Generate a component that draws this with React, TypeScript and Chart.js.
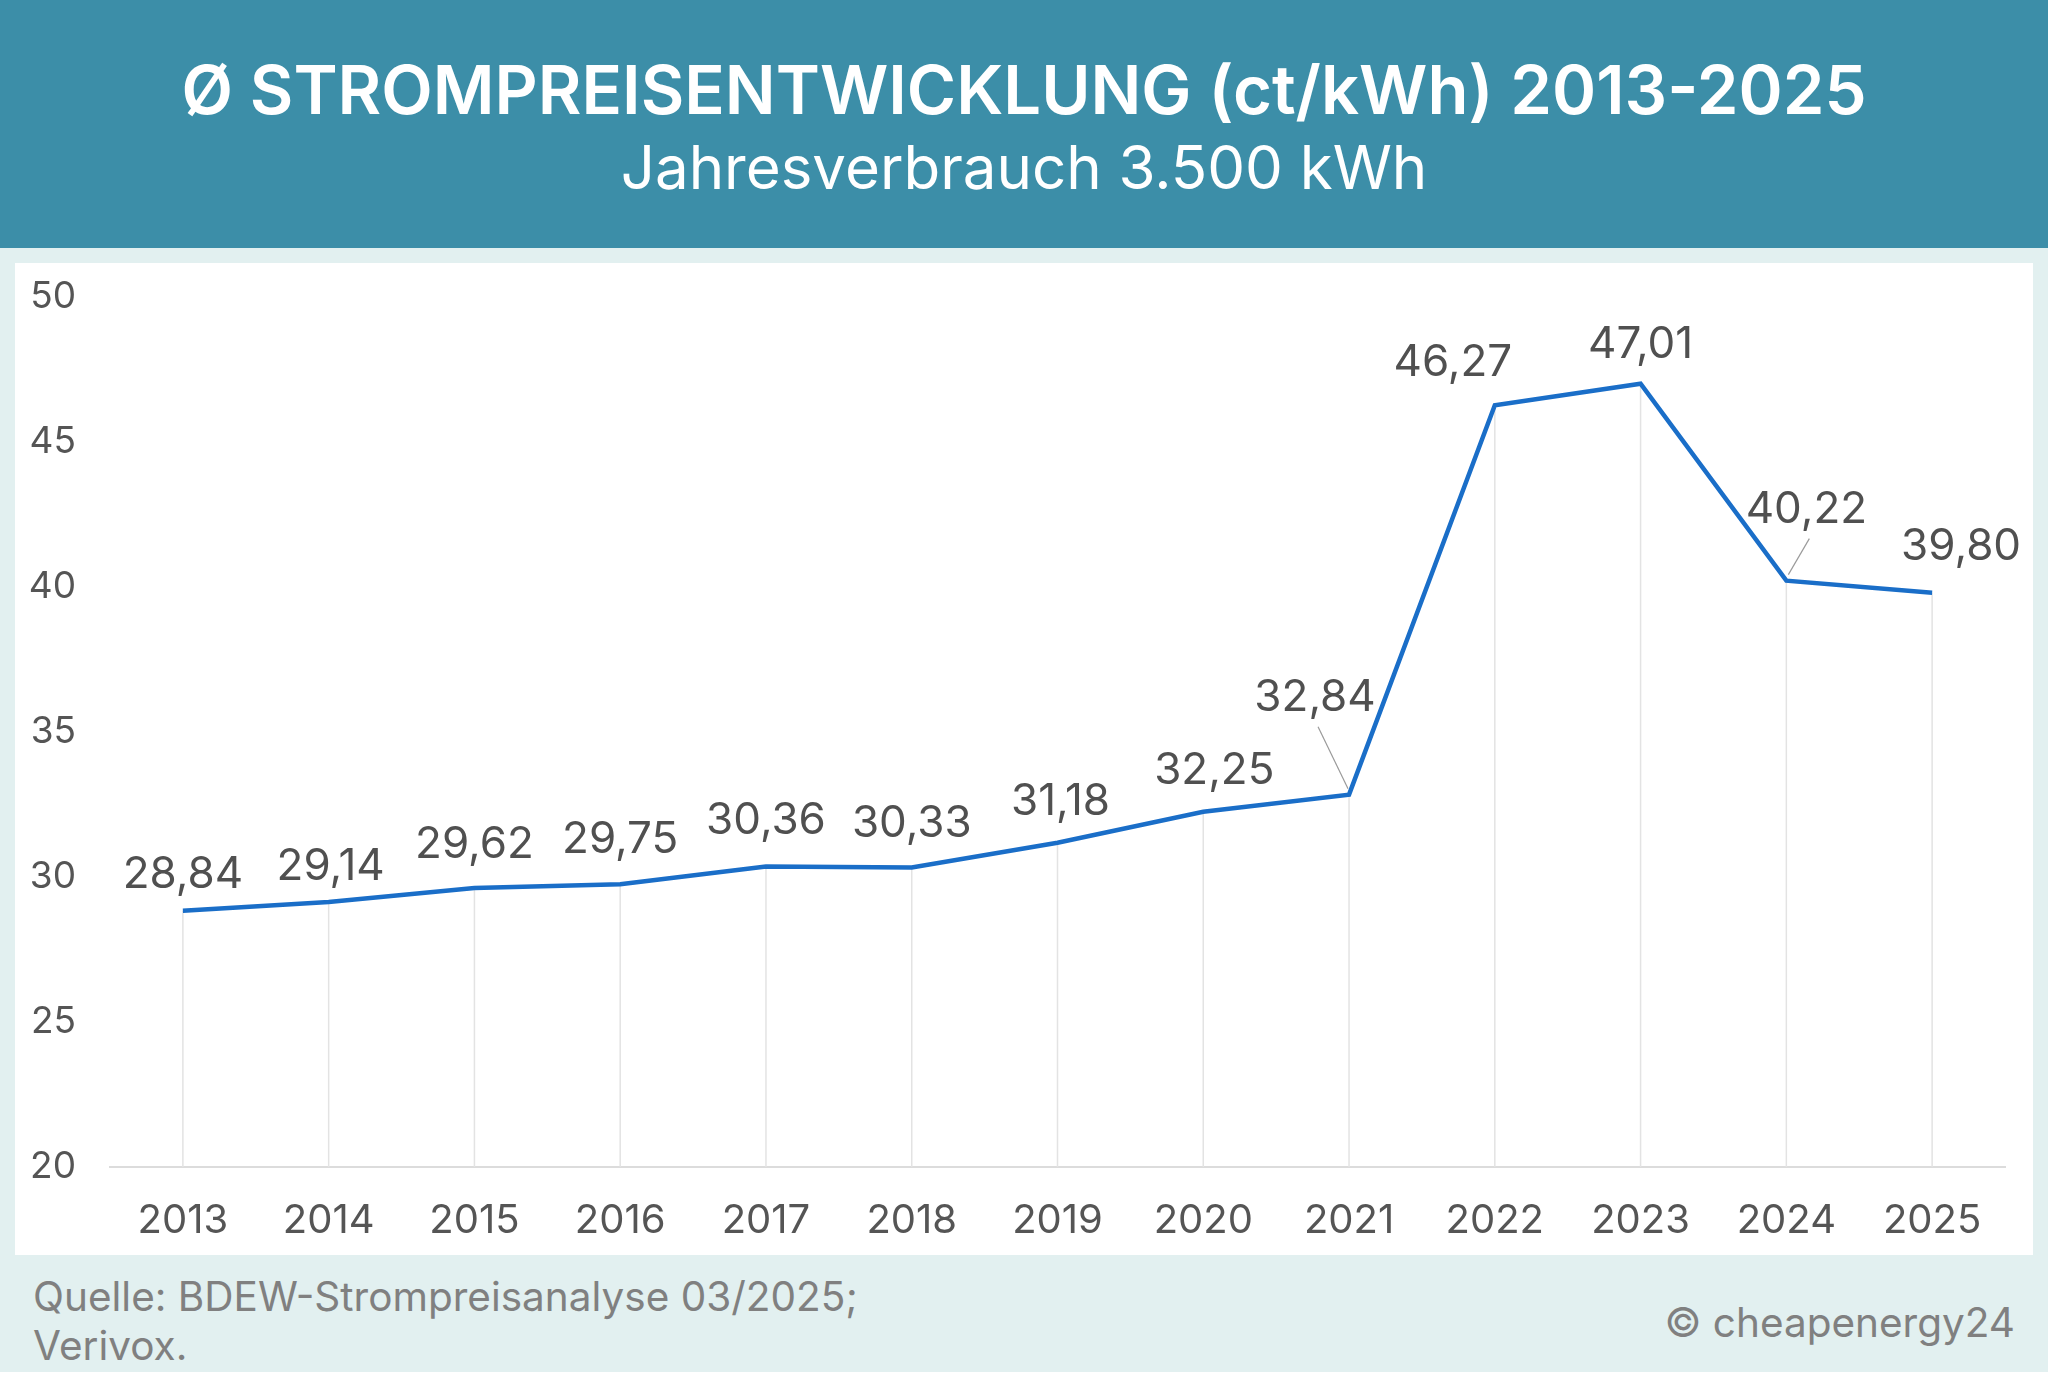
import React, { useEffect, useRef } from "react";
import { Chart, registerables } from "chart.js";

Chart.register(...registerables);

const years = ["2013", "2014", "2015", "2016", "2017", "2018", "2019", "2020", "2021", "2022", "2023", "2024", "2025"];
const prices = [28.84, 29.14, 29.62, 29.75, 30.36, 30.33, 31.18, 32.25, 32.84, 46.27, 47.01, 40.22, 39.8];
const yTicks = [20, 25, 30, 35, 40, 45, 50];

// label placement tweaks (dx, dy in px relative to default above point) and leader-line flags
const labelShift: [number, number][] = [
  [0, 5], [2, 6], [0, -2], [0, -3], [0, -5], [0, -3], [3, 0], [11, 0], [-34, -56], [-42, -1], [0, 2], [20, -30], [29, -5],
];
const leaderLine = [false, false, false, false, false, false, false, false, true, false, false, true, false];

const FONT = "Inter, 'Noto Sans', sans-serif";

const fmt = (v: number) => v.toFixed(2).replace(".", ",");

const dropLines = {
  id: "dropLines",
  beforeDatasetsDraw(chart: any) {
    const meta = chart.getDatasetMeta(0);
    const yScale = chart.scales.y;
    const ctx = chart.ctx;
    ctx.save();
    ctx.strokeStyle = "#e3e3e3";
    ctx.lineWidth = 1.5;
    meta.data.forEach((pt: any) => {
      ctx.beginPath();
      ctx.moveTo(pt.x, pt.y);
      ctx.lineTo(pt.x, yScale.bottom);
      ctx.stroke();
    });
    ctx.restore();
  },
};

const valueLabels = {
  id: "valueLabels",
  afterDatasetsDraw(chart: any) {
    const meta = chart.getDatasetMeta(0);
    const ctx = chart.ctx;
    ctx.save();
    ctx.font = `400 44px ${FONT}`;
    ctx.fillStyle = "#505050";
    ctx.textAlign = "center";
    ctx.textBaseline = "middle";
    meta.data.forEach((pt: any, i: number) => {
      const [dx, dy] = labelShift[i];
      const lx = pt.x + dx;
      const ly = pt.y - 41 + dy;
      ctx.fillText(fmt(prices[i]), lx, ly);
      if (leaderLine[i]) {
        ctx.save();
        ctx.strokeStyle = "#9a9a9a";
        ctx.lineWidth = 1.2;
        ctx.beginPath();
        ctx.moveTo(lx + 3, ly + 29);
        ctx.lineTo(pt.x + (dx < 0 ? -1 : 2), pt.y - 6);
        ctx.stroke();
        ctx.restore();
      }
    });
    ctx.restore();
  },
};

function PriceChart() {
  const ref = useRef<HTMLCanvasElement | null>(null);
  useEffect(() => {
    if (!ref.current) return;
    const chart = new Chart(ref.current, {
      type: "line",
      data: {
        labels: years,
        datasets: [
          {
            data: prices,
            borderColor: "#1a6ec8",
            borderWidth: 4.5,
            pointRadius: 0,
            tension: 0,
            fill: false,
          },
        ],
      },
      options: {
        animation: false,
        responsive: false,
        devicePixelRatio: 1,
        layout: { padding: { top: 34, right: 28, left: 0, bottom: 0 } },
        plugins: { legend: { display: false }, tooltip: { enabled: false }, title: { display: false } },
        scales: {
          x: {
            offset: true,
            grid: { display: false, drawTicks: false },
            border: { display: true, color: "#dcdcdc", width: 2 },
            ticks: { color: "#555555", font: { family: FONT, size: 40 }, padding: 30, maxRotation: 0, autoSkip: false },
            afterFit: (s: any) => { s.height = 88; s.paddingLeft = 0; s.paddingRight = 0; },
          },
          y: {
            min: 20,
            max: 50,
            afterBuildTicks: (s: any) => { s.ticks = yTicks.map((v) => ({ value: v })); },
            grid: { display: false, drawTicks: false },
            border: { display: false },
            ticks: { color: "#555555", font: { family: FONT, size: 37 }, padding: 34 },
            afterFit: (s: any) => { s.width = 95; s.paddingTop = 0; s.paddingBottom = 0; },
          },
        },
      },
      plugins: [dropLines, valueLabels],
    });
    return () => chart.destroy();
  }, []);
  return <canvas ref={ref} width={2018} height={992} style={{ position: "absolute", left: 15, top: 263, width: 2018, height: 992 }} />;
}

export default function App() {
  useEffect(() => {
    document.body.style.margin = "0";
  }, []);
  return (
    <div style={{ position: "absolute", left: 0, top: 0, width: 2048, height: 1396, background: "#ffffff", fontFamily: FONT, overflow: "hidden" }}>
      <div style={{ position: "absolute", left: 0, top: 0, width: 2048, height: 1372, background: "#e2f0f0" }} />
      <div style={{ position: "absolute", left: 0, top: 0, width: 2048, height: 248, background: "#3c8ea8" }} />
      <div style={{ position: "absolute", left: 0, top: 48, width: 2048, textAlign: "center", color: "#ffffff", fontSize: 67, fontWeight: 600, lineHeight: "84px", letterSpacing: 0 }}>
        Ø STROMPREISENTWICKLUNG (ct/kWh) 2013-2025
      </div>
      <div style={{ position: "absolute", left: 0, top: 132, width: 2048, textAlign: "center", color: "#ffffff", fontSize: 60, fontWeight: 400, lineHeight: "70px" }}>
        Jahresverbrauch 3.500 kWh
      </div>
      <div style={{ position: "absolute", left: 15, top: 263, width: 2018, height: 992, background: "#ffffff" }} />
      <PriceChart />
      <div style={{ position: "absolute", left: 33, top: 1272, color: "#808080", fontSize: 40.5, lineHeight: "49px" }}>
        Quelle: BDEW-Strompreisanalyse 03/2025;
        <br />
        Verivox.
      </div>
      <div style={{ position: "absolute", right: 33, top: 1298, color: "#808080", fontSize: 40.5, lineHeight: "49px" }}>
        © cheapenergy24
      </div>
    </div>
  );
}
